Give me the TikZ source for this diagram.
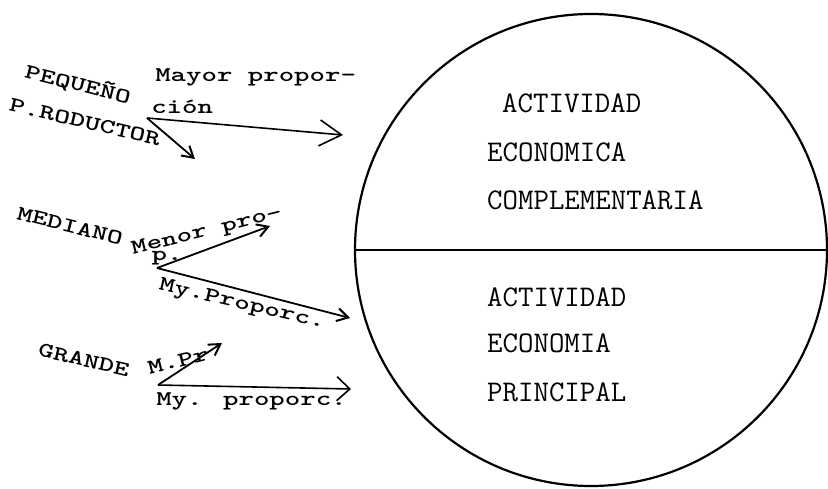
\documentclass[tikz,border=0pt]{standalone}
\usepackage{fontspec}
\usetikzlibrary{arrows.meta}

\begin{document}
\begin{tikzpicture}[
		x=1pt, y=-1pt,
		every node/.style = {inner sep=0pt},
		lbl/.style = {rotate=#1, xscale=1.4,
			font=\fontsize{21}{21}\selectfont\ttfamily\bfseries},
		lbl/.default = 0,
		intext/.style = {anchor=west,
			font=\fontsize{30}{30}\selectfont\ttfamily},
		arr/.style = {line width=1.8pt,
			-{Straight Barb[length=11pt,width=13pt,line width=2pt]}},
		midarr/.style = {line width=1.6pt,
			-{Straight Barb[length=13pt,width=24pt,line width=1.6pt]}},
		bigarr/.style = {line width=1.6pt,
			-{Straight Barb[length=22pt,width=26pt,line width=1.6pt]}}]
		
		\useasboundingbox (0,0) rectangle (828,489);
		
		% the two halves
		\node[draw, circle, line width=2.2pt, minimum size=472pt] (disc) at (591,250) {};
		\draw[line width=1.8pt] (disc.west) -- (disc.east);
		
		\node[intext] (act1) at (502,103) {ACTIVIDAD};
		\node[intext] (eco1) at (487,152) {ECONOMICA};
		\node[intext] (comp) at (487,200) {COMPLEMENTARIA};
		\node[intext] (act2) at (487,297) {ACTIVIDAD};
		\node[intext] (eco2) at (487,343) {ECONOMIA};
		\node[intext] (prin) at (487,392) {PRINCIPAL};
		
		% pequeno
		\node[lbl=-14] (peq) at (78,84) {PEQUEÑO};
		\node[lbl=-13] (prod) at (85,122) {P.RODUCTOR};
		\node[lbl, anchor=base west] (mayor) at (155,82) {Mayor propor-};
		\node[lbl, anchor=base west] (cion) at (151,114) {ción};
		\coordinate (o1) at (147,118);
		\coordinate (t1) at (343,135);
		\coordinate (t2) at (195,159);
		\draw[bigarr] (o1) -- (t1);
		\draw[arr] (o1) -- (t2);
		
		% mediano
		\node[lbl=-14] (med) at (70,226) {MEDIANO};
		\node[lbl=14] (menor) at (207,232) {Menor pro-};
		\node[lbl] (pp) at (167,258) {p.};
		\node[lbl=-13] (mypr1) at (242,305) {My.Proporc.};
		\coordinate (o2) at (157,268);
		\coordinate (t3) at (270,226);
		\coordinate (t4) at (350,318);
		\draw[arr] (o2) -- (t3);
		\draw[arr] (o2) -- (t4);
		
		% grande
		\node[lbl=-13] (gra) at (84,360) {GRANDE};
		\node[lbl=14] (mpr) at (178,361) {M.Pr};
		\node[lbl, anchor=base west] (mypr2) at (156,405) {My. proporc.};
		\coordinate (o3) at (158,385);
		\coordinate (t5) at (222,343);
		\coordinate (t6) at (351,389);
		\draw[arr] (o3) -- (t5);
		\draw[midarr] (o3) -- (t6);
		
\end{tikzpicture}
\end{document}
